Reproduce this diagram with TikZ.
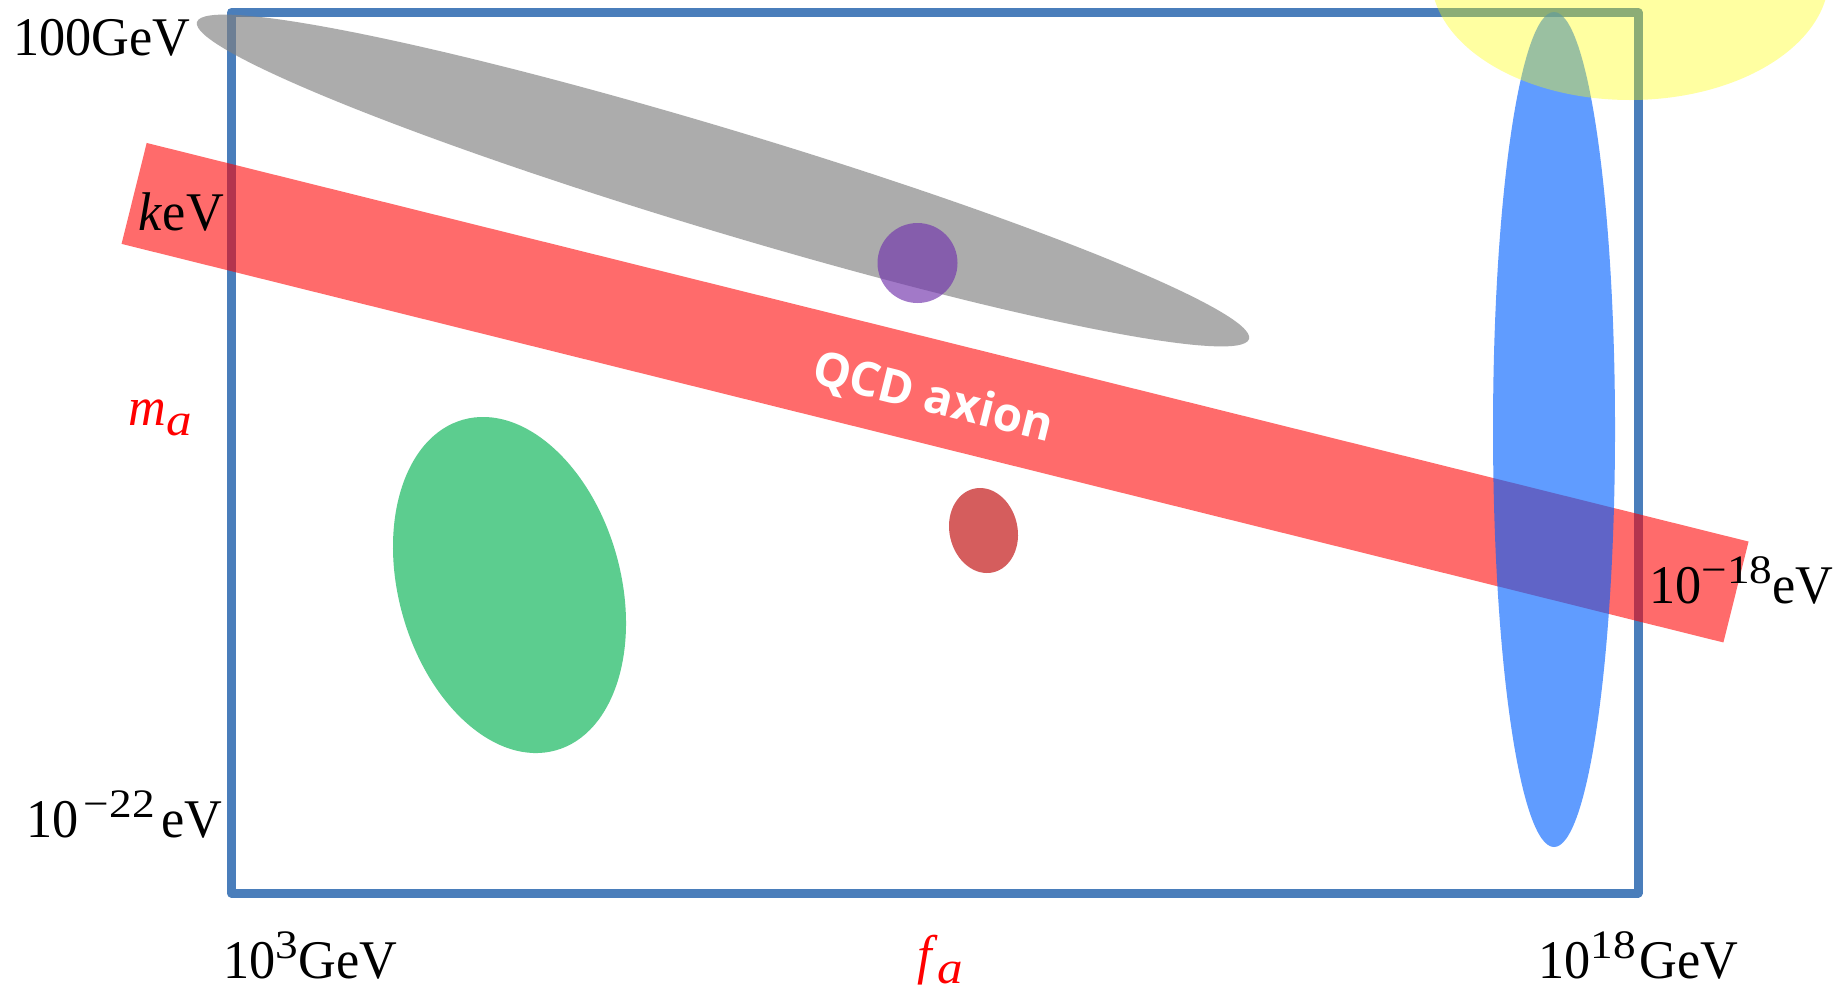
\documentclass[tikz,border=0pt]{standalone}
\usepackage{fontspec}
\setmainfont{Liberation Serif}[FakeStretch=0.96]
\newfontfamily\supfont{Liberation Serif}[FakeStretch=1.12]
\newfontfamily\qcdfont{Open Sans}
\newcommand\sups[1]{\raisebox{11pt}{\supfont\fontsize{23}{23}\selectfont #1}}
\newcommand\subsc[1]{\raisebox{-6pt}{\supfont\fontsize{26}{26}\selectfont\itshape #1}}
\definecolor{boxblue}{RGB}{74,126,187}
\definecolor{bandred}{RGB}{255,0,0}
\definecolor{graycol}{RGB}{129,129,129}
\definecolor{purp}{RGB}{114,53,172}
\definecolor{greencol}{RGB}{92,205,143}
\definecolor{dotred}{RGB}{213,93,93}
\definecolor{ellblue}{RGB}{0,97,255}
\definecolor{yel}{RGB}{255,255,0}
\tikzset{
  boxline/.style={draw=boxblue, line width=0.18cm, line join=round},
  lbl/.style={inner sep=0pt, anchor=base west, font=\fontsize{31}{36}\selectfont},
}
\begin{document}
\begin{tikzpicture}[x=0.02cm, y=-0.02cm]
\clip (0,0) rectangle (1834,991);
\fill[white] (0,0) rectangle (1834,991);
% frame
\draw[boxline] (231.5,12.5) rectangle (1638,893);
% gray ellipse
\fill[graycol, fill opacity=0.65, shift={(723,180.5)}, rotate=-16.77] (0,0) ellipse [x radius=549.4, y radius=51];
% purple circle
\fill[purp, fill opacity=0.66] (917.5,263) circle [radius=40];
% QCD axion band
\fill[bandred, fill opacity=0.58, shift={(935.05,392.7)}, rotate=-13.975] (-825.35,-52) rectangle (825.35,52);
% green ellipse
\fill[greencol, shift={(509.5,585)}, rotate=15.65] (0,0) ellipse [x radius=111, y radius=171.7];
% small red ellipse
\fill[dotred, shift={(983.5,530.5)}, rotate=12.9] (0,0) ellipse [x radius=34, y radius=42.9];
% blue ellipse
\fill[ellblue, fill opacity=0.625] (1554,429.5) ellipse [x radius=61, y radius=417.5];
% yellow
\fill[yel, fill opacity=0.37] (1630,-24) ellipse [x radius=199, y radius=124];
% labels
\node[lbl] (t100) at (13,55) {100GeV};
\node[lbl] (tkev) at (138.5,230) {\textit{k}eV};
\node[lbl, text=red] (tma) at (128,425) {\textit{m}\subsc{a}};
\node[lbl] (t22) at (26,837) {10\hspace{3pt}\sups{−22}\hspace{4pt}eV};
\node[lbl] (t3) at (223,978) {10\sups{3}GeV};
\node[lbl, text=red] (tfa) at (917,973) {\textit{f}\subsc{a}};
\node[lbl] (t18) at (1538,978) {10\sups{18}\hspace{2pt}GeV};
\node[lbl] (t18e) at (1649,603) {10\sups{−18}eV};
\node[inner sep=0pt, text=white, rotate=-13.975, font=\qcdfont\bfseries\fontsize{27}{32}\selectfont] (qcd) at (933,399) {QCD axion};
\end{tikzpicture}
\end{document}
